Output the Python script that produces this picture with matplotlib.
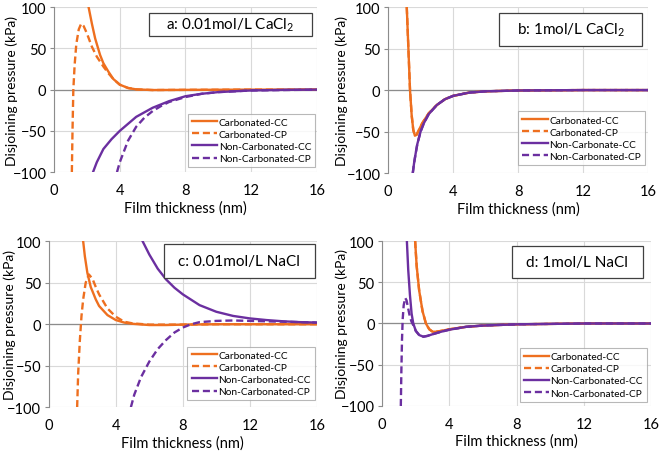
import matplotlib.pyplot as plt
from matplotlib.patches import Rectangle

plt.rcParams['font.family'] = ['Lato', 'DejaVu Sans']
plt.rcParams['mathtext.default'] = 'regular'

ORANGE = '#EE6F1F'
PURPLE = '#6B2FA0'

# ---- panel a: 0.01mol/L CaCl2 ----
a_ccc_x = [2.1, 2.3, 2.5, 2.8, 3.0, 3.3, 3.6, 4.0, 4.5, 5.0, 6.0, 8.0, 12.0, 16.0]
a_ccc_y = [100, 80, 62, 42, 32, 22, 13, 6, 2, 0.3, -0.5, -0.3, 0, 0]
a_ccp_x = [1.08, 1.12, 1.17, 1.25, 1.35, 1.5, 1.65, 1.8, 2.0, 2.3, 2.6, 3.0, 3.3, 3.6, 4.0, 4.5, 5.0, 6.0, 8.0, 12.0, 16.0]
a_ccp_y = [-100, -50, 0, 30, 55, 73, 80, 77, 68, 52, 40, 28, 20, 13, 6, 2, 0.3, -0.5, -0.3, 0, 0]
a_ncc_x = [2.37, 2.6, 3.0, 3.5, 4.0, 5.0, 6.0, 7.0, 8.0, 9.0, 10.0, 12.0, 14.0, 16.0]
a_ncc_y = [-100, -88, -72, -60, -50, -33, -22, -14, -8, -5, -3, -1, -0.3, 0]
a_ncp_x = [3.83, 4.0, 4.5, 5.0, 5.5, 6.0, 6.5, 7.0, 8.0, 9.0, 10.0, 12.0, 16.0]
a_ncp_y = [-100, -88, -62, -45, -34, -26, -20, -15, -9, -5, -3, -1, 0]

# ---- panel b: 1mol/L CaCl2 ----
b_ccc_x = [1.15, 1.25, 1.35, 1.45, 1.55, 1.65, 1.75, 1.9, 2.1, 2.5, 3.0, 3.5, 4.0, 5.0, 6.0, 8.0, 12.0, 16.0]
b_ccc_y = [100, 50, 0, -30, -48, -55, -54, -48, -40, -28, -18, -11, -7, -3, -1.5, -0.5, 0, 0]
b_ccp_x = b_ccc_x
b_ccp_y = b_ccc_y
b_ncc_x = [1.52, 1.6, 1.7, 1.8, 2.0, 2.2, 2.5, 3.0, 3.5, 4.0, 5.0, 6.0, 8.0, 12.0, 16.0]
b_ncc_y = [-100, -88, -76, -65, -50, -40, -29, -18, -11, -7, -3, -1.5, -0.5, 0, 0]
b_ncp_x = b_ncc_x
b_ncp_y = b_ncc_y

# ---- panel c: 0.01mol/L NaCl ----
c_ccc_x = [2.05, 2.15, 2.3, 2.5, 2.8, 3.0, 3.5, 4.0, 4.5, 5.0, 6.0, 7.0, 8.0, 10.0, 16.0]
c_ccc_y = [100, 82, 62, 45, 30, 22, 11, 5, 2, 0.5, -1, -1, -0.5, 0, 0]
c_ccp_x = [1.69, 1.75, 1.85, 1.95, 2.05, 2.2, 2.39, 2.6, 2.8, 3.0, 3.5, 4.0, 4.5, 5.0, 6.0, 8.0, 10.0, 16.0]
c_ccp_y = [-100, -60, -20, 10, 30, 50, 60, 55, 45, 36, 19, 9, 3, 1, -0.5, -0.5, 0, 0]
c_ncc_x = [5.6, 6.0, 6.5, 7.0, 7.5, 8.0, 9.0, 10.0, 11.0, 12.0, 13.0, 14.0, 15.0, 16.0]
c_ncc_y = [100, 84, 67, 54, 44, 36, 23, 15, 10, 7, 5, 3.5, 2.5, 2]
c_ncp_x = [4.9, 5.1, 5.5, 6.0, 6.5, 7.0, 7.5, 8.0, 8.5, 9.0, 10.0, 11.0, 12.0, 14.0, 16.0]
c_ncp_y = [-100, -85, -64, -45, -30, -19, -10, -4, 0, 2.5, 4, 4.5, 4, 3, 2]

# ---- panel d: 1mol/L NaCl ----
d_ccc_x = [1.96, 2.05, 2.2, 2.4, 2.6, 2.8, 3.0, 3.2, 3.5, 4.0, 5.0, 6.0, 8.0, 12.0, 16.0]
d_ccc_y = [100, 70, 40, 15, 0, -7, -10, -10, -9, -7, -4, -2.5, -1, 0, 0]
d_ccp_x = d_ccc_x
d_ccp_y = d_ccc_y
d_ncc_x = [1.47, 1.55, 1.65, 1.75, 1.85, 2.0, 2.2, 2.45, 2.7, 3.0, 3.5, 4.0, 5.0, 6.0, 8.0, 12.0, 16.0]
d_ncc_y = [100, 65, 35, 12, 0, -9, -14, -16, -15, -13, -10, -7.5, -4, -2.5, -1, 0, 0]
d_ncp_x = [1.11, 1.14, 1.18, 1.22, 1.28, 1.37, 1.45, 1.55, 1.65, 1.75, 1.85, 2.0, 2.2, 2.45, 2.7, 3.0, 3.5, 4.0, 5.0, 6.0, 8.0, 12.0, 16.0]
d_ncp_y = [-100, -60, -20, 5, 22, 31, 28, 18, 8, 2, -2, -9, -14, -16, -15, -13, -10, -7.5, -4, -2.5, -1, 0, 0]

panels = [
    dict(rect=[0.082, 0.617, 0.398, 0.365], tag='a: 0.01mol/L CaCl$_2$',
         box=(0.361, 0.824, 0.620, 0.140), leg=(0.995, 0.030), ylab=-0.137,
         names=['Carbonated-CC', 'Carbonated-CP', 'Non-Carbonated-CC', 'Non-Carbonated-CP'],
         data=[(a_ccc_x, a_ccc_y), (a_ccp_x, a_ccp_y), (a_ncc_x, a_ncc_y), (a_ncp_x, a_ncp_y)]),
    dict(rect=[0.588, 0.615, 0.394, 0.367], tag='b: 1mol/L CaCl$_2$',
         box=(0.427, 0.765, 0.550, 0.199), leg=(0.988, 0.048), ylab=-0.154,
         names=['Carbonated-CC', 'Carbonated-CP', 'Non-Carbonate-CC', 'Non-Carbonated-CP'],
         data=[(b_ccc_x, b_ccc_y), (b_ccp_x, b_ccp_y), (b_ncc_x, b_ncc_y), (b_ncp_x, b_ncp_y)]),
    dict(rect=[0.074, 0.097, 0.406, 0.367], tag='c: 0.01mol/L NaCl',
         box=(0.429, 0.777, 0.564, 0.205), leg=(0.993, 0.042), ylab=-0.123,
         names=['Carbonated-CC', 'Carbonated-CP', 'Non-Carbonated-CC', 'Non-Carbonated-CP'],
         data=[(c_ccc_x, c_ccc_y), (c_ccp_x, c_ccp_y), (c_ncc_x, c_ncc_y), (c_ncp_x, c_ncp_y)]),
    dict(rect=[0.579, 0.0996, 0.408, 0.365], tag='d: 1mol/L NaCl',
         box=(0.482, 0.774, 0.485, 0.198), leg=(0.984, 0.026), ylab=-0.126,
         names=['Carbonated-CC', 'Carbonated-CP', 'Non-Carbonated-CC', 'Non-Carbonated-CP'],
         data=[(d_ccc_x, d_ccc_y), (d_ccp_x, d_ccp_y), (d_ncc_x, d_ncc_y), (d_ncp_x, d_ncp_y)]),
]

styles = [(ORANGE, '-'), (ORANGE, (0, (3, 1.6))), (PURPLE, '-'), (PURPLE, (0, (3, 1.6)))]

fig = plt.figure(figsize=(6.6, 4.52), dpi=100)

for p in panels:
    ax = fig.add_axes(p['rect'])
    handles = []
    for (xs, ys), (col, ls), name in zip(p['data'], styles, p['names']):
        h, = ax.plot(xs, ys, color=col, linestyle=ls, lw=1.7, label=name)
        handles.append(h)
    ax.set_xlim(0, 16)
    ax.set_ylim(-100, 100)
    ax.set_xticks([0, 4, 8, 12, 16])
    ax.set_yticks([-100, -50, 0, 50, 100])
    ax.grid(True, color='#d9d9d9', lw=0.8)
    ax.set_axisbelow(True)
    ax.axhline(0, color='#8c8c8c', lw=0.9, zorder=1)
    for s in ['top', 'right', 'bottom']:
        ax.spines[s].set_visible(False)
    ax.spines['left'].set_color('#8c8c8c')
    ax.tick_params(axis='x', length=0, labelsize=10.5, pad=8)
    ax.tick_params(axis='y', length=3, width=0.8, color='#8c8c8c', labelsize=10.5, pad=2.5)
    ax.set_xlabel('Film thickness (nm)', fontsize=10.5, labelpad=2)
    ax.set_ylabel('Disjoining pressure (kPa)', fontsize=10)
    ax.yaxis.set_label_coords(p['ylab'], 0.5)
    bx, by, bw, bh = p['box']
    ax.add_patch(Rectangle((bx, by), bw, bh, transform=ax.transAxes, facecolor='white',
                           edgecolor='#404040', lw=0.9, zorder=5))
    ax.text(bx + bw / 2, by + bh / 2, p['tag'], transform=ax.transAxes, ha='center',
            va='center', fontsize=11, zorder=6)
    leg = ax.legend(handles=handles, loc='lower right', bbox_to_anchor=p['leg'],
                    fontsize=7.3, frameon=True, fancybox=False, edgecolor='#a6a6a6',
                    handlelength=2.5, handletextpad=0.15, labelspacing=0.3,
                    borderpad=0.4, borderaxespad=0)
    leg.get_frame().set_linewidth(0.8)

fig.savefig('out.png', dpi=100)
